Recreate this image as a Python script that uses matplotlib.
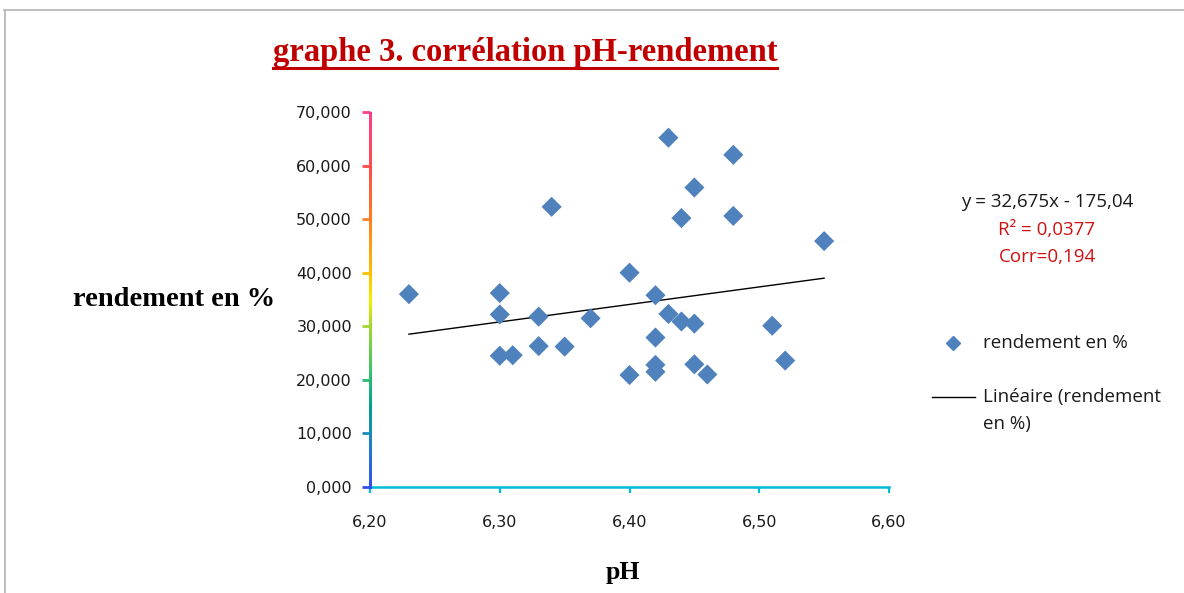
import numpy as np
import matplotlib
matplotlib.use("Agg")
import matplotlib.pyplot as plt
from matplotlib.colors import LinearSegmentedColormap
from matplotlib.collections import LineCollection
from matplotlib.lines import Line2D
import matplotlib.transforms as mtransforms

# ---------------- data ----------------
ph = [6.23, 6.30, 6.30, 6.30, 6.31, 6.33, 6.33, 6.34, 6.35, 6.37,
      6.40, 6.40, 6.42, 6.42, 6.42, 6.42, 6.43, 6.43, 6.44, 6.44,
      6.45, 6.45, 6.45, 6.46, 6.48, 6.48, 6.51, 6.52, 6.55]
rendement = [36.0, 36.2, 32.2, 24.5, 24.6, 31.8, 26.3, 52.3, 26.2, 31.5,
             40.0, 20.9, 35.8, 27.9, 22.8, 21.5, 65.2, 32.3, 50.2, 30.9,
             55.9, 30.5, 22.9, 21.0, 62.0, 50.6, 30.1, 23.6, 45.9]
slope = 32.675
intercept = -175.04
x_ticks = [6.20, 6.30, 6.40, 6.50, 6.60]
y_ticks = [0, 10, 20, 30, 40, 50, 60, 70]

title = "graphe 3. corrélation pH-rendement"
eq_text = "y = 32,675x - 175,04"
r2_text = "R² = 0,0377"
corr_text = "Corr=0,194"

W, H = 1184, 593
fig = plt.figure(figsize=(W / 100, H / 100), dpi=100)
fig.patch.set_facecolor("white")

def fx(px):
    return px / W

def fy(py):
    return 1 - py / H

ax = fig.add_axes([fx(370), fy(487), fx(889) - fx(370), fy(112) - fy(487)])
ax.set_xlim(6.20, 6.60)
ax.set_ylim(0, 70)
ax.set_facecolor("none")

blue = "#4f81bd"
ax.scatter(ph, rendement, marker="D", s=105, color=blue, edgecolors="none", zorder=3)

xs = np.array([min(ph), max(ph)])
ax.plot(xs, slope * xs + intercept, color="black", lw=1.0, zorder=2)

# spines
for s in ["top", "right", "left"]:
    ax.spines[s].set_visible(False)
cyan = "#00bcd8"
ax.spines["bottom"].set_color(cyan)
ax.spines["bottom"].set_linewidth(1.8)

rainbow = LinearSegmentedColormap.from_list(
    "rb",
    [(0.0, "#3050f0"), (0.14, "#1a8ac0"), (0.22, "#00a090"), (0.3, "#30c070"),
     (0.43, "#a0d830"), (0.5, "#f0f000"), (0.57, "#ffc000"), (0.71, "#ff8020"),
     (0.86, "#ff4a4a"), (1.0, "#ff3c8c")])

# gradient y-axis line as a thin image strip
strip = fig.add_axes([fx(369), fy(489), fx(2.2), fy(112) - fy(489)])
strip.imshow(np.linspace(1, 0, 256).reshape(-1, 1), cmap=rainbow, aspect="auto",
             vmin=0, vmax=1, interpolation="bilinear")
strip.set_axis_off()

# y tick marks coloured along the gradient
trans = mtransforms.blended_transform_factory(ax.transAxes, ax.transData)
tick_len = 8 / (889 - 370)
tsegs = [[(-tick_len, v), (0, v)] for v in y_ticks]
ax.add_collection(LineCollection(tsegs, colors=[rainbow(v / 70) for v in y_ticks],
                                 linewidths=2.0, transform=trans, clip_on=False, zorder=4))

ax.set_yticks(y_ticks)
ax.set_yticklabels([f"{v:,.3f}".replace(".", ",") for v in y_ticks])
ax.set_xticks(x_ticks)
ax.set_xticklabels([f"{v:.2f}".replace(".", ",") for v in x_ticks])
ax.tick_params(axis="y", direction="out", length=0, pad=13,
               labelsize=11.5, labelcolor="#1a1a1a")
ax.tick_params(axis="x", direction="out", length=4.3, width=1.6, pad=16,
               labelsize=11.5, labelcolor="#1a1a1a", color=cyan)

# texts
serif = "Liberation Serif"
red = "#c00000"
ttl = fig.text(fx(525), fy(53), title, ha="center", va="center", fontsize=23.5,
               fontweight="bold", family=serif, color=red)
fig.text(fx(174), fy(300), "rendement en %", ha="center", va="center", fontsize=20.5,
         fontweight="bold", family=serif, color="black")
fig.text(fx(623), fy(573), "pH", ha="center", va="center", fontsize=18.5,
         fontweight="bold", family=serif, color="black")

fig.canvas.draw()
bb = ttl.get_window_extent(fig.canvas.get_renderer())
fig.add_artist(Line2D([bb.x0 / W, bb.x1 / W], [fy(68), fy(68)], color=red, lw=2.2,
                      transform=fig.transFigure))

sans = "Open Sans"
fs = 13.5
fig.text(fx(1047), fy(202), eq_text, ha="center", va="center", fontsize=fs, family=sans, color="#1a1a1a")
fig.text(fx(1047), fy(230), r2_text, ha="center", va="center", fontsize=fs, family=sans, color="#d01010")
fig.text(fx(1047), fy(257), corr_text, ha="center", va="center", fontsize=fs, family=sans, color="#d01010")

# legend
fig.add_artist(Line2D([fx(953)], [fy(343)], marker="D", markersize=7.5, color=blue, lw=0,
                      transform=fig.transFigure))
fig.text(fx(983), fy(343), "rendement en %", ha="left", va="center", fontsize=fs, family=sans, color="#1a1a1a")
fig.add_artist(Line2D([fx(932), fx(975)], [fy(397), fy(397)], color="black", lw=1.0,
                      transform=fig.transFigure))
fig.text(fx(983), fy(397), "Linéaire (rendement", ha="left", va="center", fontsize=fs, family=sans, color="#1a1a1a")
fig.text(fx(983), fy(424), "en %)", ha="left", va="center", fontsize=fs, family=sans, color="#1a1a1a")

# outer frame
fig.add_artist(Line2D([fx(4), fx(1184)], [fy(9.5), fy(9.5)], color="#b4b4b4", lw=1.2, transform=fig.transFigure))
fig.add_artist(Line2D([fx(4.5), fx(4.5)], [fy(9.5), fy(593)], color="#b4b4b4", lw=1.2, transform=fig.transFigure))

fig.savefig("out.png", dpi=100, facecolor="white")
